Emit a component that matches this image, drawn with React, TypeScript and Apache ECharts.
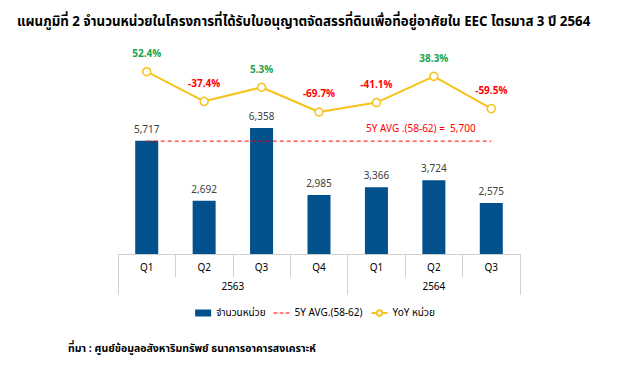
import React, { useEffect, useRef } from "react";
import * as echarts from "echarts";

const quarters = ["Q1", "Q2", "Q3", "Q4", "Q1", "Q2", "Q3"];
const years = ["2563", "2564"];
const yearSpans = [4, 3];
const units = [5717, 2692, 6358, 2985, 3366, 3724, 2575];
const yoy = [52.4, -37.4, 5.3, -69.7, -41.1, 38.3, -59.5];
const avg5y = 5700;
const avgLabelIndex = 5;

const titleText = "แผนภูมิที่ 2 จำนวนหน่วยในโครงการที่ได้รับใบอนุญาตจัดสรรที่ดินเพื่อที่อยู่อาศัยใน EEC ไตรมาส 3 ปี 2564";
const sourceText = "ที่มา : ศูนย์ข้อมูลอสังหาริมทรัพย์ ธนาคารอาคารสงเคราะห์";
const seriesNames = ["จำนวนหน่วย", "5Y AVG.(58-62)", "YoY หน่วย"];
const avgLabelText = "5Y AVG .(58-62) =  ";

const FONT = "Tahoma, 'Noto Sans Thai', 'Noto Sans', 'DejaVu Sans', sans-serif";
const BLUE = "#02508c";
const RED = "#ff0000";
const GREEN = "#1aa34a";
const GOLD = "#f7c21a";

const fmt = (v: number) => v.toLocaleString("en-US");

export default function App() {
  const ref = useRef<HTMLDivElement>(null);
  useEffect(() => {
    if (!ref.current) return;
    const chart = echarts.init(ref.current, null, { renderer: "svg" });
    const yearBounds: number[] = [0];
    yearSpans.forEach((s) => yearBounds.push(yearBounds[yearBounds.length - 1] + s));
    const yearCenters = yearSpans.map((s, i) => yearBounds[i] + s / 2);
    chart.setOption({
      animation: false,
      textStyle: { fontFamily: FONT },
      title: [
        {
          text: titleText,
          left: 12,
          top: 10,
          textStyle: { fontSize: 13.3, fontWeight: "bold", color: "#000", fontFamily: FONT },
        },
        {
          text: sourceText,
          left: 63,
          top: 338,
          textStyle: { fontSize: 10.5, fontWeight: "bold", color: "#000", fontFamily: FONT },
        },
      ],
      legend: {
        data: [
          { name: seriesNames[0], icon: "rect" },
          {
            name: seriesNames[1],
            icon: "path://M0,0h4v1.2h-4z M6,0h4v1.2h-4z M12,0h4v1.2h-4z",
            itemStyle: { color: RED },
          },
          { name: seriesNames[2] },
        ],
        top: 303,
        left: "center",
        itemWidth: 16,
        itemHeight: 7,
        itemGap: 8,
        symbolKeepAspect: true,
        textStyle: { fontSize: 10, color: "#000", fontFamily: FONT },
      },
      grid: { left: 118, right: 110, top: 56, bottom: 112 },
      xAxis: [
        {
          type: "category",
          data: quarters,
          boundaryGap: true,
          axisLine: { show: true, onZero: false, lineStyle: { color: "#d0d0d0", width: 1 } },
          axisTick: { show: true, interval: 0, length: 23, lineStyle: { color: "#d0d0d0" } },
          axisLabel: { interval: 0, margin: 9, fontSize: 10, color: "#000", fontFamily: FONT },
        },
        {
          type: "value",
          min: 0,
          max: quarters.length,
          position: "bottom",
          axisLine: { show: false, onZero: false },
          splitLine: { show: false },
          axisTick: {
            show: true,
            length: 41,
            customValues: yearBounds,
            lineStyle: { color: "#d0d0d0" },
          },
          axisLabel: {
            show: true,
            customValues: yearCenters,
            margin: 28,
            fontSize: 10,
            color: "#000",
            fontFamily: FONT,
            formatter: (v: number) => {
              const i = yearCenters.indexOf(v);
              return i >= 0 ? years[i] : "";
            },
          },
        },
      ],
      yAxis: [
        { type: "value", min: 0, max: 10000, show: false, splitLine: { show: false } },
        { type: "value", min: -500, max: 100, show: false, splitLine: { show: false } },
      ],
      series: [
        {
          name: seriesNames[0],
          type: "bar",
          data: units,
          barWidth: 23,
          itemStyle: { color: BLUE },
          label: {
            show: true,
            position: "top",
            distance: 6,
            fontSize: 10,
            color: "#404040",
            fontFamily: FONT,
            formatter: (p: any) => fmt(p.value),
          },
        },
        {
          name: seriesNames[1],
          type: "line",
          data: quarters.map(() => avg5y),
          symbol: "none",
          lineStyle: { color: RED, type: [4, 3], width: 1 },
          itemStyle: { color: RED },
          markPoint: {
            symbol: "circle",
            symbolSize: 0,
            data: [
              {
                coord: [avgLabelIndex, avg5y],
                label: {
                  show: true,
                  position: "top",
                  distance: 7,
                  offset: [-13, 0],
                  fontSize: 10,
                  color: RED,
                  fontFamily: FONT,
                  formatter: () => `${avgLabelText}${fmt(avg5y)}`,
                },
              },
            ],
          },
          z: 3,
        },
        {
          name: seriesNames[2],
          type: "line",
          yAxisIndex: 1,
          data: yoy.map((v) => ({
            value: v,
            label: { color: v >= 0 ? GREEN : RED },
          })),
          symbol: "circle",
          symbolSize: 8,
          lineStyle: { color: GOLD, width: 2 },
          itemStyle: { color: "#fff", borderColor: GOLD, borderWidth: 1.5 },
          label: {
            show: true,
            position: "top",
            distance: 8,
            fontSize: 10,
            fontWeight: "bold",
            fontFamily: FONT,
            formatter: (p: any) => `${p.value}%`,
          },
          z: 4,
        },
      ],
    });
    return () => chart.dispose();
  }, []);
  return (
    <div
      ref={ref}
      style={{ position: "fixed", left: 0, top: 0, width: 630, height: 366, background: "#fff" }}
    />
  );
}
